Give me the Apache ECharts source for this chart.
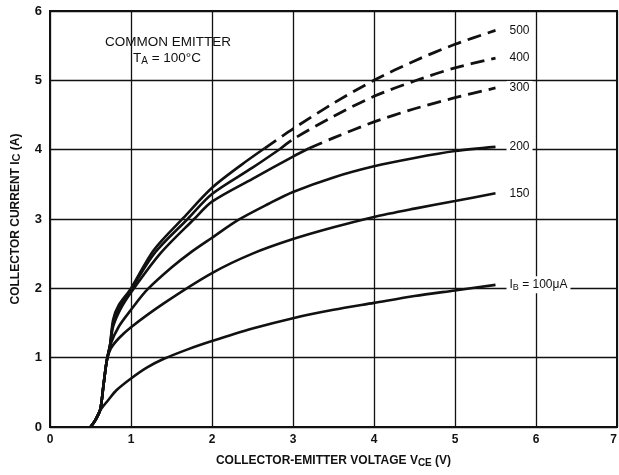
<!DOCTYPE html>
<html><head><meta charset="utf-8">
<script src="https://cdn.jsdelivr.net/npm/echarts@6/dist/echarts.min.js"></script>
<style>html,body{margin:0;padding:0;background:#fff}#c{width:619px;height:475px}</style>
</head><body><div id="c"></div>
<script>
// Axis ranges
const xMin = 0, xMax = 7, xStep = 1;
const yMin = 0, yMax = 6, yStep = 1;

// Curves: [VCE (V), IC (A)]
const ib100 = [[0.5,0],[0.56,0.1],[0.62,0.24],[0.72,0.39],[0.82,0.53],[1,0.7],[1.2,0.86],[1.4,0.98],[1.7,1.12],[2,1.24],[2.5,1.42],[3,1.57],[3.5,1.69],[4,1.79],[4.5,1.89],[5,1.97],[5.5,2.05]];
const ib150 = [[0.5,0],[0.56,0.1],[0.62,0.25],[0.66,0.6],[0.7,0.95],[0.75,1.13],[0.85,1.28],[1,1.44],[1.4,1.78],[2,2.22],[2.5,2.5],[3,2.71],[3.5,2.88],[4,3.03],[4.5,3.15],[5,3.26],[5.5,3.37]];
const ib200 = [[0.5,0],[0.56,0.1],[0.62,0.25],[0.66,0.6],[0.7,0.95],[0.75,1.2],[0.85,1.45],[1,1.69],[1.2,1.98],[1.5,2.3],[1.75,2.53],[2,2.73],[2.33,2.99],[2.7,3.22],[3,3.39],[3.5,3.6],[4,3.76],[4.5,3.88],[5,3.98],[5.5,4.04]];
const ib300Solid = [[0.5,0],[0.56,0.1],[0.62,0.25],[0.66,0.6],[0.7,0.95],[0.74,1.17],[0.78,1.45],[0.87,1.7],[1,1.94],[1.36,2.5],[1.78,3.0],[2,3.25],[2.5,3.58],[3,3.9],[3.2,4.02]];
const ib300Dashed = [[3.2,4.02],[3.5,4.17],[4,4.4],[4.5,4.59],[5,4.75],[5.5,4.89]];
const ib400Solid = [[0.5,0],[0.56,0.1],[0.62,0.25],[0.66,0.6],[0.7,0.95],[0.74,1.17],[0.78,1.5],[0.86,1.73],[1,1.98],[1.3,2.52],[1.7,3.0],[2,3.36],[2.5,3.74],[2.84,4.01]];
const ib400Dashed = [[2.84,4.01],[3,4.15],[3.5,4.48],[4,4.77],[4.5,4.99],[5,5.18],[5.5,5.32]];
const ib500Solid = [[0.5,0],[0.56,0.1],[0.62,0.25],[0.66,0.6],[0.7,0.95],[0.74,1.17],[0.78,1.55],[0.85,1.76],[1,2.0],[1.28,2.55],[1.65,3.02],[2,3.45],[2.35,3.77],[2.65,4.02]];
const ib500Dashed = [[2.65,4.02],[3,4.3],[3.5,4.67],[4,5.0],[4.5,5.28],[5,5.52],[5.5,5.72]];

// Curve labels
const label100 = '{n|I}{s|B}{n| = 100\u03bcA}';
const label150 = '150';
const label200 = '200';
const label300 = '300';
const label400 = '400';
const label500 = '500';
const noteLine1 = 'COMMON EMITTER';
const noteLine2 = '{n|T}{s|A}{n| = 100°C}';

const FONT = '"Liberation Sans", Arial, Helvetica, sans-serif';
const INK = '#111';

function endLbl(text){
  return {
    show: true, formatter: text, distance: 11, color: INK,
    fontFamily: FONT, fontSize: 12, backgroundColor: '#fff', padding: [1,3,1,3],
    rich: {
      n: {fontFamily: FONT, fontSize: 12, color: INK},
      s: {fontFamily: FONT, fontSize: 9, color: INK, padding: [6,0,0,0]}
    }
  };
}
function solid(data, lbl){
  const s = {type:'line', data, smooth:0.3, showSymbol:false, symbol:'none',
    lineStyle:{color:INK, width:2.6}, z:3};
  if (lbl) s.endLabel = endLbl(lbl);
  return s;
}
function dashed(data, lbl){
  const s = solid(data, lbl);
  s.lineStyle = {color:INK, width:2.8, type:[14,7]};
  return s;
}

const chart = echarts.init(document.getElementById('c'), null, {renderer:'canvas'});
chart.setOption({
  animation: false,
  backgroundColor: '#fff',
  grid: {left: 50, right: 2, top: 11, bottom: 48, outerBoundsMode: 'none', containLabel: false,
    show: true, borderColor: INK, borderWidth: 2, backgroundColor: 'transparent'},
  xAxis: {
    type: 'value', min: xMin, max: xMax, interval: xStep,
    axisLine: {show: true, lineStyle: {color: INK, width: 2}},
    axisTick: {show: false},
    splitLine: {show: true, lineStyle: {color: INK, width: 1.3}},
    axisLabel: {color: INK, fontFamily: FONT, fontWeight: 'bold', fontSize: 12, margin: 7, alignMaxLabel: 'right'},
    name: 'COLLECTOR-EMITTER VOLTAGE V{s|CE} (V)',
    nameLocation: 'middle', nameGap: 26,
    nameTextStyle: {color: INK, fontFamily: FONT, fontWeight: 'bold', fontSize: 12,
      rich: {s: {fontFamily: FONT, fontWeight: 'bold', fontSize: 10, color: INK, padding: [5,0,0,0]}}}
  },
  yAxis: {
    type: 'value', min: yMin, max: yMax, interval: yStep,
    axisLine: {show: true, lineStyle: {color: INK, width: 2}},
    axisTick: {show: false},
    splitLine: {show: true, lineStyle: {color: INK, width: 1.3}},
    axisLabel: {color: INK, fontFamily: FONT, fontWeight: 'bold', fontSize: 13, margin: 8},
    name: 'COLLECTOR CURRENT I{s|C} (A)',
    nameLocation: 'middle', nameGap: 28, nameRotate: 90,
    nameTextStyle: {color: INK, fontFamily: FONT, fontWeight: 'bold', fontSize: 12,
      rich: {s: {fontFamily: FONT, fontWeight: 'bold', fontSize: 11, color: INK, padding: [2,0,0,0]}}}
  },
  graphic: [
    {type:'text', left: 105, top: 35, z: 10, style:{text: noteLine1, font: '13.5px ' + FONT, fill: INK}},
    {type:'text', left: 133, top: 51, z: 10, style:{text: noteLine2, fill: INK,
      rich: {n:{fontFamily: FONT, fontSize: 13.5, fill: INK}, s:{fontFamily: FONT, fontSize: 10, fill: INK, padding:[7,0,0,0]}}}}
  ],
  series: [
    solid(ib100, label100),
    solid(ib150, label150),
    solid(ib200, label200),
    solid(ib300Solid), dashed(ib300Dashed, label300),
    solid(ib400Solid), dashed(ib400Dashed, label400),
    solid(ib500Solid), dashed(ib500Dashed, label500)
  ]
});
</script>
</body></html>
